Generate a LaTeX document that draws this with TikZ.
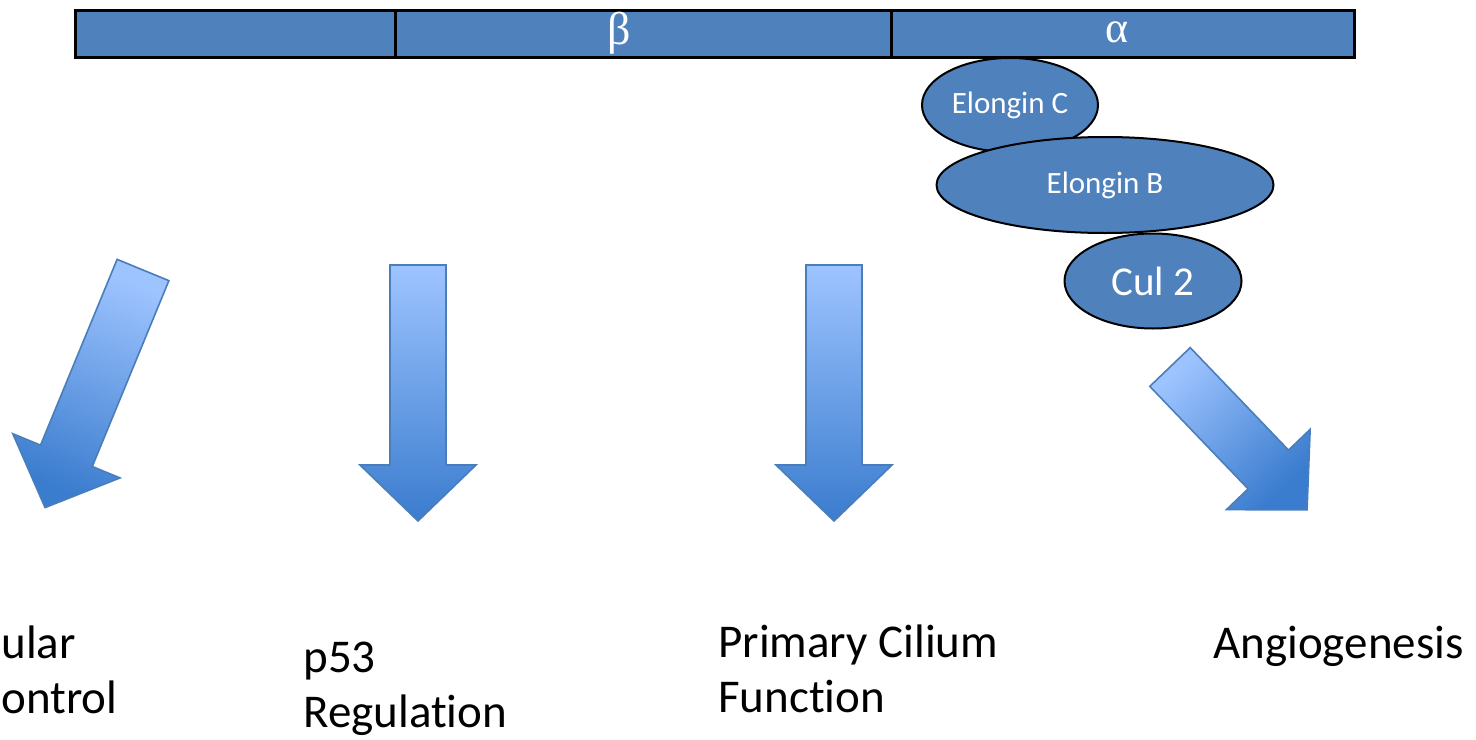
\documentclass[tikz,border=0pt]{standalone}
\usepackage{fontspec}
\setmainfont{Carlito}[Ligatures={NoCommon,NoRare}]
\newfontfamily\greekfont{Liberation Serif}
\usetikzlibrary{shapes.geometric}
\definecolor{vhl}{RGB}{79,129,189}
\definecolor{arrlight}{RGB}{158,196,255}
\definecolor{arrdark}{RGB}{58,124,206}
\definecolor{arredge}{RGB}{74,126,187}
\begin{document}
\begin{tikzpicture}[x=0.5pt, y=-0.5pt]
	\tikzset{b/.style={draw=black, fill=vhl, line width=1.5pt},
	g/.style={text=white, inner sep=0pt, anchor=base},
	e/.style={draw=black, fill=vhl, ellipse, line width=1pt, text=white, inner sep=0pt},
	t/.style={anchor=base west, inner sep=0pt, align=left, font=\fontsize{23.5}{27.5}\selectfont},
	pics/barrow/.style 2 args={code={
		\shade[draw=arredge, line width=0.8pt, top color=arrlight, bottom color=arrdark, shading angle=#2]
		(-28,0) -- (28,0) -- (28,#1) -- (58,#1) -- (0,#1+56) -- (-58,#1) -- (-28,#1) -- cycle;}}};

	\useasboundingbox (0,0) rectangle (1476,739);

	% VHL bar
	\draw[b] (75,10) rectangle (395,57);
	\draw[b] (395,10) rectangle (891,57);
	\draw[b] (891,10) rectangle (1354,57);
	\node[g, font=\greekfont\fontsize{23}{26}\selectfont] (beta) at (619,44) {β};
	\node[g, font=\greekfont\fontsize{22}{25}\selectfont] (alpha) at (1117,42) {α};

	% complex
	\node[e, minimum width=88pt, minimum height=47pt, font=\fontsize{15.5}{18}\selectfont] (ec) at (1010,105) {Elongin C};
	\node[e, minimum width=168.5pt, minimum height=48pt, font=\fontsize{15.5}{18}\selectfont] (eb) at (1105,185) {Elongin B};
	\node[e, minimum width=88.5pt, minimum height=47.5pt, font=\fontsize{20.5}{24}\selectfont] (cul) at (1153,281) {Cul 2};

	% arrows
	\pic[rotate=-22.4] at (143,270) {barrow={201}{-22.4}};
	\pic at (418,265) {barrow={200}{0}};
	\pic at (834,265) {barrow={200}{0}};
	\pic[rotate=43.8] at (1170,367) {barrow={142}{43.8}};

	% functions
	\node[t] (l1) at (1,713) {ular\\ontrol};
	\node[t] (l2) at (303,727) {p53\\Regulation};
	\node[t] (l3) at (718,712) {Primary Cilium\\Function};
	\node[t] (l4) at (1213,658) {Angiogenesis};
\end{tikzpicture}
\end{document}
